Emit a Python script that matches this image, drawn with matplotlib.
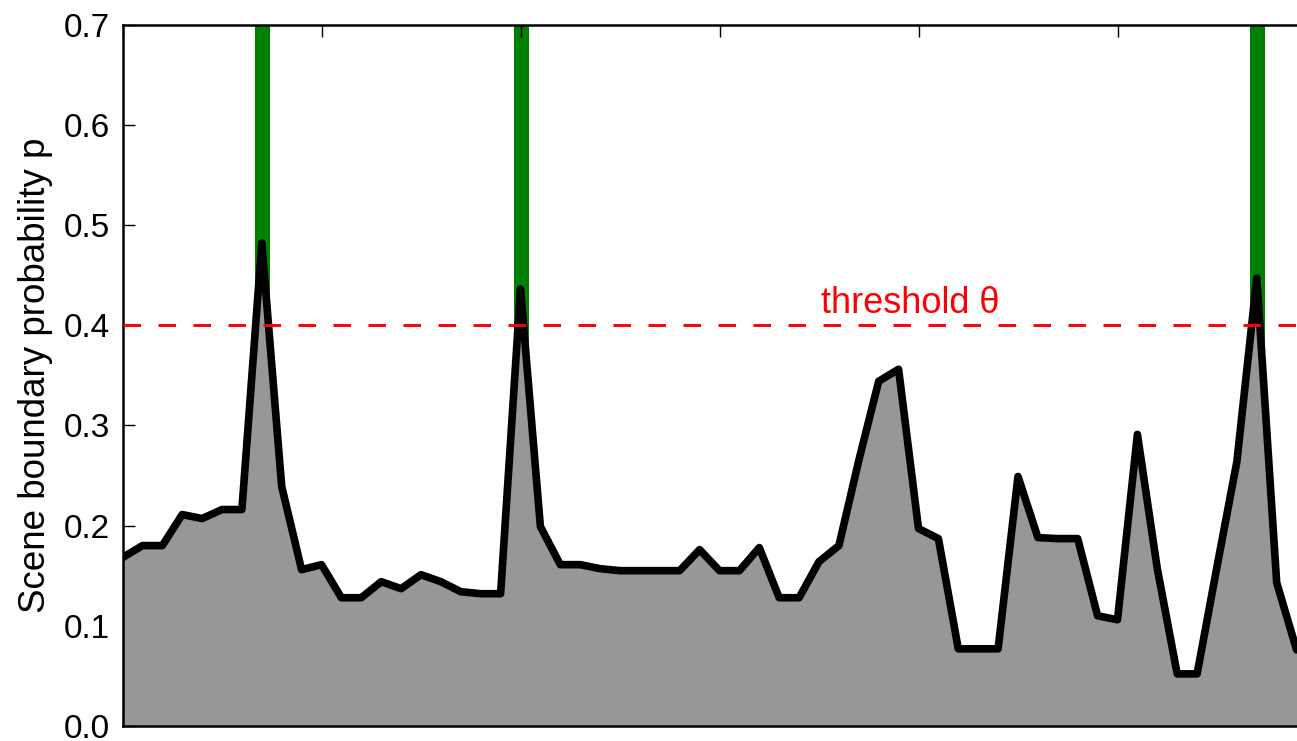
import matplotlib
matplotlib.use("Agg")
import matplotlib.pyplot as plt
import numpy as np

plt.rcParams['font.family'] = ['Liberation Sans', 'DejaVu Sans']

# Data
shot_index = list(range(60))
probability = [0.168, 0.180, 0.180, 0.211, 0.207, 0.216, 0.216, 0.482, 0.239, 0.156,
               0.161, 0.128, 0.128, 0.144, 0.137, 0.151, 0.144, 0.134, 0.132, 0.132,
               0.436, 0.199, 0.161, 0.161, 0.157, 0.155, 0.155, 0.155, 0.155, 0.176,
               0.155, 0.155, 0.178, 0.128, 0.128, 0.164, 0.180, 0.265, 0.344, 0.356,
               0.197, 0.187, 0.077, 0.077, 0.077, 0.249, 0.188, 0.187, 0.187, 0.110,
               0.106, 0.291, 0.157, 0.052, 0.052, 0.159, 0.264, 0.447, 0.143, 0.076]
boundaries = [7, 20, 57]
threshold = 0.4
threshold_label = "threshold θ"
ylabel = "Scene boundary probability p"
yticks = [0.0, 0.1, 0.2, 0.3, 0.4, 0.5, 0.6, 0.7]
xticks = [0, 10, 20, 30, 40, 50]

W, H = 1297, 741
fig = plt.figure(figsize=(W / 100, H / 100), dpi=100)
left_px, right_px, top_px, bot_px = 122.5, 122.5 + 60 * 19.9, 24.5, 726
ax = fig.add_axes([left_px / W, (H - bot_px) / H, (right_px - left_px) / W, (bot_px - top_px) / H])

for b in boundaries:
    ax.axvline(b, color='#008000', lw=10.8, zorder=1, solid_capstyle='butt')
ax.fill_between(shot_index, 0, probability, color='#979797', lw=0, zorder=2)
ax.plot(shot_index, probability, color='black', lw=5.5, zorder=3,
        solid_joinstyle='round', solid_capstyle='round')
ax.axhline(threshold, color='red', lw=2.1, dashes=(6, 6), zorder=4)
ax.text(39.6, 0.412, threshold_label, color='red', fontsize=26,
        ha='center', va='baseline', zorder=5)

ax.set_xlim(0, 60)
ax.set_ylim(0, 0.7)
ax.set_yticks(yticks)
ax.set_yticklabels([f"{v:.1f}" for v in yticks], fontsize=24)
ax.set_xticks(xticks)
ax.set_xticklabels([])
ax.tick_params(direction='in', length=8.5, width=1, top=True, right=True, pad=9)
for s in ax.spines.values():
    s.set_linewidth(1.8)
ax.set_ylabel(ylabel, fontsize=26.5, labelpad=8)

fig.savefig("out.png", dpi=100)
